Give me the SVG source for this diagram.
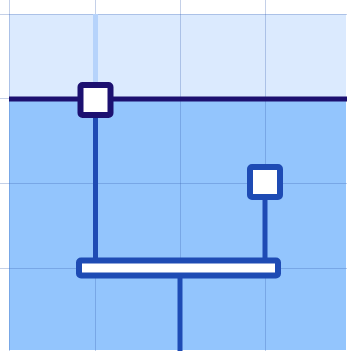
<svg xmlns="http://www.w3.org/2000/svg" width="347" height="351" viewBox="0 0 347 351">
<style>
.grid{stroke:#3c64b4;stroke-opacity:0.3;stroke-width:1;fill:none}
.wire{stroke:#1e4bb4;stroke-width:5;fill:none}
.node{fill:#ffffff;stroke:#1e4bb4;stroke-width:6}
.top{fill:#ffffff;stroke:#1c1070;stroke-width:6}
</style>
<rect x="0" y="0" width="347" height="351" fill="#ffffff"/>
<rect x="9" y="14" width="337" height="85" fill="#dbeafe"/>
<rect x="9" y="99" width="337" height="251" fill="#93c5fd"/>
<g id="grid">
<path class="grid" d="M9.5 0V351M95.5 0V351M180.5 0V351M265.5 0V351M0 14.5H347M0 98.5H347M0 183.5H347M0 268.5H347"/>
</g>
<line x1="95.5" y1="14" x2="95.5" y2="97" stroke="#b6d3fb" stroke-width="5"/>
<line x1="9" y1="99" x2="347" y2="99" stroke="#1c1070" stroke-width="5"/>
<g id="connectors">
<line class="wire" x1="95.5" y1="116" x2="95.5" y2="260"/>
<line class="wire" x1="265" y1="198" x2="265" y2="260"/>
<line class="wire" x1="180" y1="276" x2="180" y2="351" stroke-width="6"/>
</g>
<g id="top-node">
<rect class="top" x="80.5" y="85" width="30" height="30" rx="2"/>
</g>
<g id="right-node">
<rect class="node" x="250" y="167" width="30" height="30" rx="2"/>
</g>
<g id="bar">
<rect class="node" x="79" y="260.5" width="199" height="15" rx="2"/>
</g>
</svg>
